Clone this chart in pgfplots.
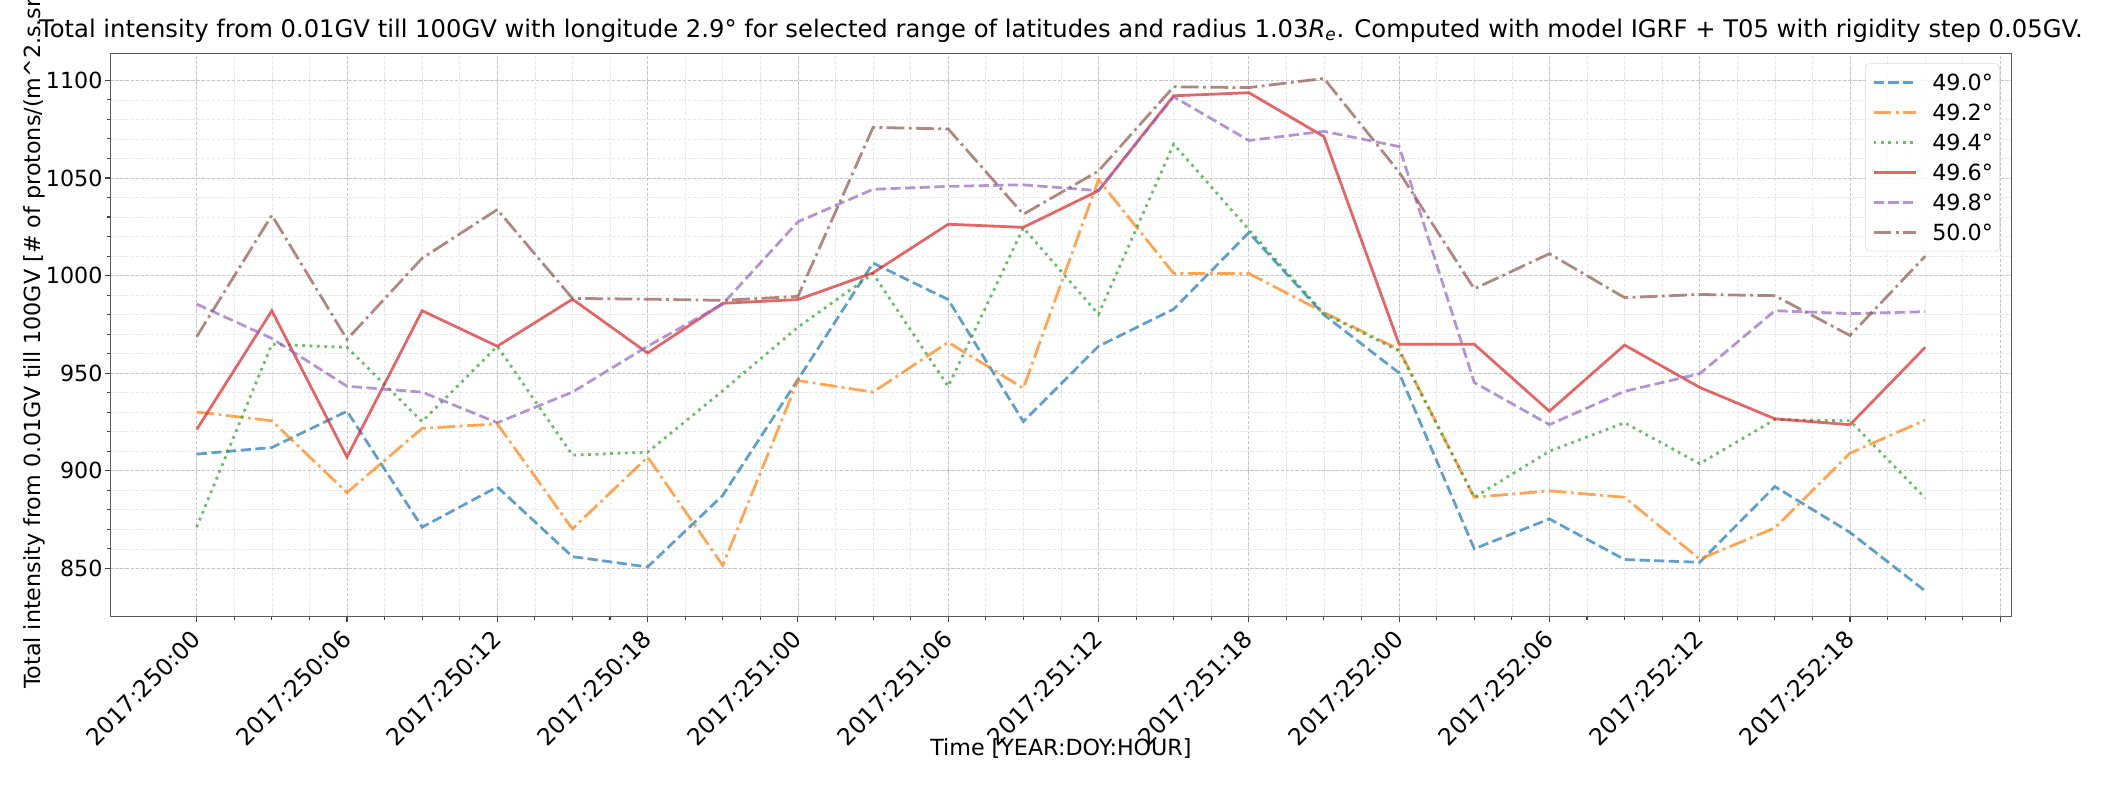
\documentclass[border=0pt]{standalone}
\usepackage{fontspec}
\setmainfont{DejaVu Sans}
\usepackage{pgfplots}
\pgfplotsset{compat=1.18}
\usepackage{pgfplotstable}

\pgfplotstableread{
i  blue    orange  green   red     purple  brown
0  908.5   930.1   871.1   921.1   985.4   968.7
1  911.9   925.6   964.8   982.0   967.8   1030.9
2  930.5   888.8   963.2   907.0   943.3   967.3
3  871.1   921.7   925.2   982.0   940.3   1008.9
4  891.7   924.0   963.8   963.8   924.6   1033.8
5  856.0   870.2   908.0   987.9   940.3   988.3
6  850.7   907.0   909.5   960.3   963.8   987.9
7  887.4   851.5   941.0   985.8   985.4   987.3
8  946.7   946.2   973.5   987.7   1027.5  989.3
9  1006.4  940.3   1001.0  1001.4  1044.2  1075.9
10 987.7   965.8   943.2   1026.3  1045.7  1075.1
11 925.2   942.3   1024.5  1024.7  1046.5  1031.4
12 963.8   1049.1  980.1   1043.5  1043.5  1053.6
13 982.8   1001.1  1067.3  1092.1  1091.6  1096.7
14 1022.0  1001.1  1023.6  1093.7  1069.2  1096.3
15 979.9   981.1   980.5   1071.2  1073.9  1101.0
16 950.1   962.1   961.4   964.8   1066.1  1053.0
17 860.0   886.4   886.4   964.8   945.2   993.2
18 875.3   889.7   910.0   930.5   923.6   1011.2
19 854.5   886.4   924.6   964.4   940.7   988.7
20 853.1   854.7   903.6   942.7   949.7   990.3
21 891.9   870.7   926.2   926.6   982.0   989.7
22 868.4   909.0   925.6   923.6   980.5   969.3
23 838.4   926.0   886.0   963.2   981.5   1009.9
}\datatable

\definecolor{tabblue}{HTML}{1F77B4}
\definecolor{taborange}{HTML}{FF7F0E}
\definecolor{tabgreen}{HTML}{2CA02C}
\definecolor{tabred}{HTML}{D62728}
\definecolor{tabpurple}{HTML}{9467BD}
\definecolor{tabbrown}{HTML}{8C564B}
\newcommand{\F}{\fontsize{16.67pt}{20pt}\selectfont}
\newcommand{\FX}{\fontsize{17.6pt}{21pt}\selectfont}
\newcommand{\FT}{\fontsize{18.2pt}{22pt}\selectfont}

\begin{document}
\begin{tikzpicture}[font=\F]
\begin{axis}[
  scale only axis, width=1426pt, height=422.6pt,
  at={(0pt,0pt)}, anchor=south west,
  xmin=-1.15, xmax=24.15, ymin=825.2, ymax=1113.9,
  xtick={0,2,...,24},
  xticklabels={2017:250:00,2017:250:06,2017:250:12,2017:250:18,2017:251:00,2017:251:06,2017:251:12,2017:251:18,2017:252:00,2017:252:06,2017:252:12,2017:252:18,{}},
  minor x tick num=3,
  ytick={850,900,...,1100},
  minor y tick num=4,
  /pgf/number format/assume math mode=true,
  /pgf/number format/1000 sep={},
  grid=both,
  major grid style={gray!45, dash pattern=on 2.6pt off 1.2pt, line width=0.6pt},
  minor grid style={gray!18, dash pattern=on 2.6pt off 1.2pt, line width=0.45pt},
  tick align=outside, xtick pos=left, ytick pos=left,
  major tick length=3.65pt, minor tick length=2.1pt,
  every tick/.style={black!75, line width=0.8pt},
  axis line style={black!65, line width=1pt},
  xticklabel style={font=\FX, xshift=-5pt, yshift=-5pt, rotate=45, anchor=north east, inner sep=0pt},
  yticklabel style={font=\F, anchor=east, inner sep=0pt, xshift=-2pt},
  title={Total intensity from 0.01GV till 100GV with longitude 2.9° for selected range of latitudes and radius 1.03\textit{R}\textsubscript{\textit{e}}. Computed with model IGRF + T05 with rigidity step 0.05GV.},
  title style={at={(axis description cs:0.5,1)}, anchor=base, yshift=6pt, font=\FT, inner sep=0pt},
  xlabel={Time [YEAR:DOY:HOUR]},
  xlabel style={at={(axis description cs:0.5,0)}, anchor=center, yshift=-99.2pt, font=\F},
  ylabel={Total intensity from 0.01GV till 100GV [\# of protons/(m\textasciicircum 2.s.sr)]},
  ylabel style={at={(axis description cs:0,0.5)}, anchor=center, yshift=57pt, font=\F},
  every axis plot/.append style={line width=2.08pt, opacity=0.7, no markers},
  legend image code/.code={\draw[#1] (0pt,0pt) -- (32pt,0pt);},
  legend cell align=left,
  legend style={at={(axis description cs:1,1)}, anchor=north east, xshift=-8.8pt, yshift=-7.5pt,
    draw=black!15, fill=white, fill opacity=0.8, text opacity=1, rounded corners=3pt,
    font=\F, inner xsep=5pt, inner ysep=8pt, row sep=10.3pt,
    nodes={inner sep=0pt, text height=12.2pt, text depth=0pt},
    /tikz/every odd column/.append style={column sep=11pt}},
]
\addplot[tabblue, dash pattern=on 7.7pt off 3.33pt] table[x=i,y=blue]{\datatable};
\addplot[taborange, dash pattern=on 13.3pt off 3.33pt on 2.08pt off 3.33pt] table[x=i,y=orange]{\datatable};
\addplot[tabgreen, dash pattern=on 2.08pt off 3.44pt] table[x=i,y=green]{\datatable};
\addplot[tabred] table[x=i,y=red]{\datatable};
\addplot[tabpurple, dash pattern=on 7.7pt off 3.33pt] table[x=i,y=purple]{\datatable};
\addplot[tabbrown, dash pattern=on 13.3pt off 3.33pt on 2.08pt off 3.33pt] table[x=i,y=brown]{\datatable};
\legend{49.0°,49.2°,49.4°,49.6°,49.8°,50.0°}
\end{axis}
\pgfresetboundingbox
\path[use as bounding box] (-82.7pt,-126.2pt) rectangle (1498.3pt,462.55pt);
\end{tikzpicture}
\end{document}
